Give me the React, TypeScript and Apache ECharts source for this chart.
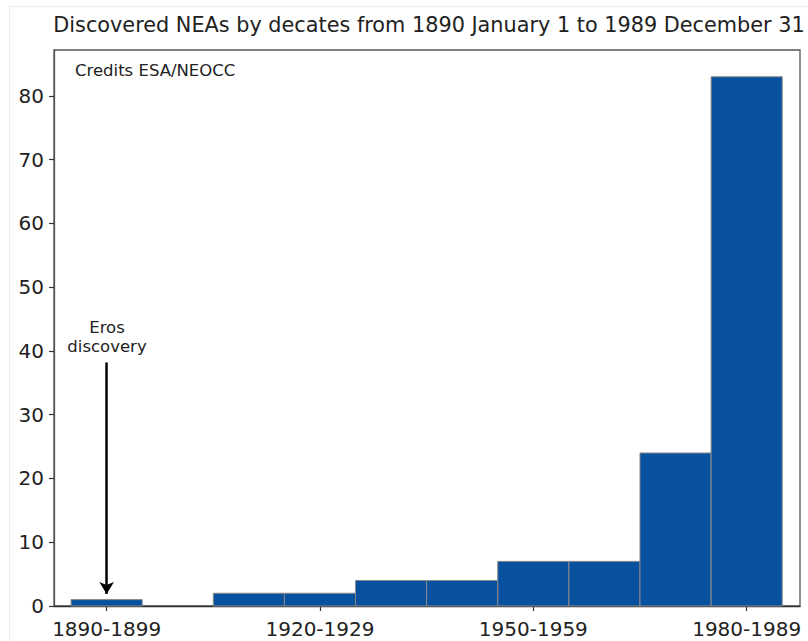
import React, { useEffect, useRef } from "react";
import * as echarts from "echarts";

// Decade bins and the number of near-Earth asteroids discovered in each
const decades = [
  "1890-1899", "1900-1909", "1910-1919", "1920-1929", "1930-1939",
  "1940-1949", "1950-1959", "1960-1969", "1970-1979", "1980-1989",
];
const discoveries = [1, 0, 2, 2, 4, 4, 7, 7, 24, 83];

// Which decades get a label on the x axis
const labelledDecades = ["1890-1899", "1920-1929", "1950-1959", "1980-1989"];
const yTicks = [0, 10, 20, 30, 40, 50, 60, 70, 80];

// Eros annotation arrow, in data units (bin position, count)
const erosArrowStart = [0.5, 38.2];
const erosArrowEnd = [0.5, 1.9];

const FONT = "DejaVu Sans";
const BAR_COLOR = "#07519f";

export default function App() {
  const ref = useRef<HTMLDivElement>(null);

  useEffect(() => {
    if (!ref.current) return;
    const chart = echarts.init(ref.current, null, { renderer: "svg" });

    const xTickValues = labelledDecades.map((d) => decades.indexOf(d) + 0.5);

    chart.setOption({
      animation: false,
      backgroundColor: "#ffffff",
      title: {
        text: "Discovered NEAs by decates from 1890 January 1 to 1989 December 31",
        left: 424,
        top: 9,
        textAlign: "center",
        textStyle: { fontFamily: FONT, fontSize: 20.8, fontWeight: "normal", color: "#222" },
      },
      grid: {
        left: 54,
        right: 8,
        top: 50,
        bottom: 35,
        show: true,
        borderColor: "#555",
        borderWidth: 1.3,
        backgroundColor: "transparent",
      },
      xAxis: {
        type: "value",
        min: -0.24,
        max: 10.25,
        splitLine: { show: false },
        axisLine: { show: true, onZero: false, lineStyle: { color: "#333", width: 1.3 } },
        axisTick: {
          show: true,
          length: 5,
          lineStyle: { color: "#333", width: 1.2 },
          customValues: xTickValues,
        },
        axisLabel: {
          customValues: xTickValues,
          formatter: (v: number) => decades[Math.round(v - 0.5)] ?? "",
          fontFamily: FONT,
          fontSize: 20,
          color: "#222",
          margin: 13,
        },
      },
      yAxis: {
        type: "value",
        min: 0,
        max: 87.2,
        splitLine: { show: false },
        axisLine: { show: true, onZero: false, lineStyle: { color: "#555", width: 1.3 } },
        axisTick: {
          show: true,
          length: 5,
          lineStyle: { color: "#333", width: 1.2 },
          customValues: yTicks,
        },
        axisLabel: {
          customValues: yTicks,
          fontFamily: FONT,
          fontSize: 20,
          color: "#222",
          margin: 10,
        },
      },
      series: [
        {
          type: "custom",
          data: discoveries.map((v, i) => [i, v]),
          renderItem: (params: any, api: any) => {
            const i = api.value(0);
            const v = api.value(1);
            if (v <= 0) return null;
            const topLeft = api.coord([i, v]);
            const bottomRight = api.coord([i + 1, 0]);
            return {
              type: "rect",
              shape: {
                x: topLeft[0],
                y: topLeft[1],
                width: bottomRight[0] - topLeft[0],
                height: bottomRight[1] - topLeft[1],
              },
              style: { fill: BAR_COLOR, stroke: "#8a8a8a", lineWidth: 1 },
            };
          },
          markLine: {
            silent: true,
            symbol: ["none", "arrow"],
            symbolSize: [11, 12],
            label: { show: false },
            lineStyle: { color: "#000", width: 2.5, type: "solid" },
            data: [[{ coord: erosArrowStart }, { coord: erosArrowEnd }]],
          },
        },
      ],
      graphic: [
        {
          type: "rect",
          left: 7,
          top: 4,
          shape: { width: 800, height: 640 },
          style: { fill: "none", stroke: "#ececec", lineWidth: 1 },
          silent: true,
          z: -1,
        },
        {
          type: "text",
          left: 75,
          top: 62,
          style: { text: "Credits ESA/NEOCC", fontFamily: FONT, fontSize: 16.5, fill: "#222" },
        },
        {
          type: "text",
          x: 107,
          y: 318,
          style: {
            text: "Eros\ndiscovery",
            fontFamily: FONT,
            fontSize: 16.5,
            lineHeight: 19,
            fill: "#222",
            align: "center",
          },
        },
      ],
    });

    return () => chart.dispose();
  }, []);

  return (
    <div
      ref={ref}
      style={{ position: "fixed", left: 0, top: 0, width: 808, height: 641 }}
    />
  );
}
